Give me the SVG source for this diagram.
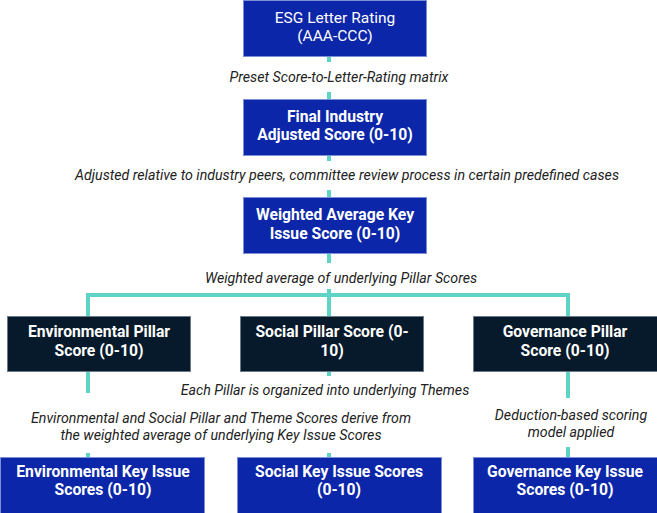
<svg xmlns="http://www.w3.org/2000/svg" width="657" height="513" viewBox="0 0 657 513">
  <style>
    .blue { fill: #0b26a9; stroke: #7d8fd6; stroke-width: 1; }
    .dark { fill: #061a2b; stroke: #6c7a88; stroke-width: 1; }
    .lbl { font-family: Roboto, "Liberation Sans", sans-serif; font-size: 15.7px; fill: #ffffff; text-anchor: middle; font-weight: bold; }
    .lbl.reg { font-weight: normal; font-size: 15.5px; }
    .note { font-family: Roboto, "Liberation Sans", sans-serif; font-size: 14.2px; font-style: italic; fill: #222222; text-anchor: middle; }
    .link { stroke: #5fd4c6; stroke-width: 4; fill: none; }
  </style>
  <rect width="657" height="513" fill="#ffffff"/>

  <!-- connectors -->
  <g id="connectors">
    <path class="link" d="M329 57V62M329 92V99"/>
    <path class="link" d="M329 156V161M329 190V197"/>
    <path class="link" d="M329 253V263M329 289V316"/>
    <path class="link" d="M88 316V295H568V316"/>
    <path class="link" d="M88 372V393M88 453V457"/>
    <path class="link" d="M329 372V376M329 453V457"/>
    <path class="link" d="M568 372V398M568 447V457"/>
  </g>

  <!-- connector notes -->
  <g id="notes">
    <text class="note" x="339" y="82">Preset Score-to-Letter-Rating matrix</text>
    <text class="note" x="347" y="180">Adjusted relative to industry peers, committee review process in certain predefined cases</text>
    <text class="note" x="341" y="283">Weighted average of underlying Pillar Scores</text>
    <text class="note" x="325" y="395">Each Pillar is organized into underlying Themes</text>
    <text class="note" x="221" y="423">Environmental and Social Pillar and Theme Scores derive from</text>
    <text class="note" x="221" y="440">the weighted average of underlying Key Issue Scores</text>
    <text class="note" x="571" y="420">Deduction-based scoring</text>
    <text class="note" x="571" y="437">model applied</text>
  </g>

  <g id="letter-rating">
    <rect class="blue" x="243.5" y="0.5" width="183" height="56"/>
    <text class="lbl reg" x="335" y="23">ESG Letter Rating</text>
    <text class="lbl reg" x="335" y="41">(AAA-CCC)</text>
  </g>

  <g id="final-score">
    <rect class="blue" x="243.5" y="99.5" width="183" height="56"/>
    <text class="lbl" x="335" y="122">Final Industry</text>
    <text class="lbl" x="335" y="140">Adjusted Score (0-10)</text>
  </g>

  <g id="weighted-score">
    <rect class="blue" x="243.5" y="197.5" width="183" height="56"/>
    <text class="lbl" x="335" y="220">Weighted Average Key</text>
    <text class="lbl" x="335" y="239">Issue Score (0-10)</text>
  </g>

  <g id="env-pillar">
    <rect class="dark" x="7.5" y="316.5" width="183" height="55"/>
    <text class="lbl" x="99" y="337">Environmental Pillar</text>
    <text class="lbl" x="99" y="356">Score (0-10)</text>
  </g>

  <g id="social-pillar">
    <rect class="dark" x="240.5" y="316.5" width="183" height="55"/>
    <text class="lbl" x="332" y="337">Social Pillar Score (0-</text>
    <text class="lbl" x="332" y="356">10)</text>
  </g>

  <g id="gov-pillar">
    <rect class="dark" x="473.5" y="316.5" width="184" height="55"/>
    <text class="lbl" x="565" y="337">Governance Pillar</text>
    <text class="lbl" x="565" y="356">Score (0-10)</text>
  </g>

  <g id="env-key">
    <rect class="blue" x="0.5" y="457.5" width="204" height="56"/>
    <text class="lbl" x="103" y="477">Environmental Key Issue</text>
    <text class="lbl" x="103" y="495">Scores (0-10)</text>
  </g>

  <g id="social-key">
    <rect class="blue" x="237.5" y="457.5" width="204" height="56"/>
    <text class="lbl" x="339" y="477">Social Key Issue Scores</text>
    <text class="lbl" x="339" y="495">(0-10)</text>
  </g>

  <g id="gov-key">
    <rect class="blue" x="473.5" y="457.5" width="184" height="56"/>
    <text class="lbl" x="565" y="477">Governance Key Issue</text>
    <text class="lbl" x="565" y="495">Scores (0-10)</text>
  </g>
</svg>
